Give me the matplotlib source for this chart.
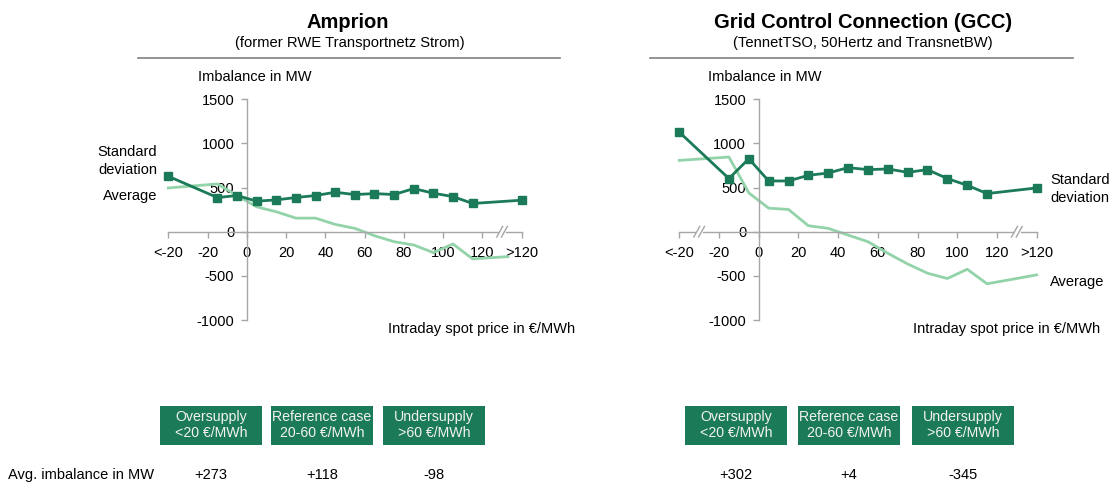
import numpy as np
import matplotlib
matplotlib.use('Agg')
import matplotlib.pyplot as plt
from matplotlib.patches import Rectangle

plt.rcParams['font.family'] = ['Liberation Sans', 'DejaVu Sans']
plt.rcParams['axes.unicode_minus'] = False

# price buckets (numeric positions, "<-20" -> -40, ">120" -> 140)
tick_pos = [-40, -20, 0, 20, 40, 60, 80, 100, 120, 140]
tick_labels = ['<-20', '-20', '0', '20', '40', '60', '80', '100', '120', '>120']
x_pts = [-40, -15, -5, 5, 15, 25, 35, 45, 55, 65, 75, 85, 95, 105, 115, 140]

# Amprion
amp_std = [628, 387, 410, 346, 361, 387, 410, 447, 421, 432, 421, 489, 436, 398, 320, 357]
amp_avg = [496, 541, 410, 282, 226, 154, 154, 83, 38, -45, -113, -150, -237, -139, -308, -282]
amp_avg_x = [-40, -15, -5, 5, 15, 25, 35, 45, 55, 65, 75, 85, 95, 105, 115, 133]
amp_breaks = [130]

# GCC
gcc_std = [1128, 602, 827, 575, 575, 639, 665, 726, 703, 711, 673, 703, 602, 526, 432, 496]
gcc_avg = [808, 846, 440, 267, 252, 68, 38, -38, -113, -244, -365, -470, -530, -425, -590, -489]
gcc_breaks = [-30, 130]

cases = ['Oversupply\n<20 €/MWh', 'Reference case\n20-60 €/MWh', 'Undersupply\n>60 €/MWh']
amp_case_avg = ['+273', '+118', '-98']
gcc_case_avg = ['+302', '+4', '-345']

DARK = '#1b7a57'
LIGHT = '#93d3a9'
GRID = '#a6a6a6'
FS = 10.5

W, H = 1111, 484
fig = plt.figure(figsize=(W / 100, H / 100), dpi=100)


def fx(px):
  return px / W


def fy(py):
  return 1 - py / H


def make_axes(x0, x1):
  ax = fig.add_axes([fx(x0), fy(320), fx(x1 - x0), (320 - 99.3) / H])
  ax.set_xlim(-40, 140)
  ax.set_ylim(-1000, 1500)
  for s in ['top', 'right']:
    ax.spines[s].set_visible(False)
  ax.spines['left'].set_position(('data', 0))
  ax.spines['bottom'].set_position(('data', 0))
  for s in ['left', 'bottom']:
    ax.spines[s].set_color(GRID)
    ax.spines[s].set_linewidth(1.0)
  ax.set_yticks([-1000, -500, 0, 500, 1000, 1500])
  ax.set_xticks(tick_pos)
  ax.set_xticklabels(tick_labels)
  ax.tick_params(axis='both', colors=GRID, labelcolor='black', labelsize=FS,
                 length=4, width=1.0)
  ax.tick_params(axis='x', pad=6)
  ax.tick_params(axis='y', pad=5)
  ax.patch.set_alpha(0)
  return ax


def draw_breaks(ax, breaks):
  for b in breaks:
    for dx in (-1.2, 1.2):
      ax.plot([b + dx - 1.5, b + dx + 1.5], [-60, 60], color=GRID, lw=1.0,
              clip_on=False, zorder=5)
    ax.plot([b - 1.0, b + 1.0], [0, 0], color='white', lw=2.0, clip_on=False, zorder=4)


# ---- Amprion ----
ax1 = make_axes(168.3, 521.7)
ax1.plot(amp_avg_x, amp_avg, color=LIGHT, lw=2, clip_on=False, zorder=2)
ax1.plot(x_pts, amp_std, color=DARK, lw=2, marker='s', ms=6, clip_on=False, zorder=3)
draw_breaks(ax1, amp_breaks)

# ---- GCC ----
ax2 = make_axes(679.3, 1036.7)
ax2.plot(x_pts, gcc_avg, color=LIGHT, lw=2, clip_on=False, zorder=2)
ax2.plot(x_pts, gcc_std, color=DARK, lw=2, marker='s', ms=6, clip_on=False, zorder=3)
draw_breaks(ax2, gcc_breaks)

# ---- headers ----
fig.text(fx(348), fy(22), 'Amprion', ha='center', va='center', fontsize=14.5, weight='bold')
fig.text(fx(350), fy(43), '(former RWE Transportnetz Strom)', ha='center', va='center', fontsize=10.6)
fig.text(fx(863), fy(22), 'Grid Control Connection (GCC)', ha='center', va='center',
         fontsize=14.5, weight='bold')
fig.text(fx(863), fy(43), '(TennetTSO, 50Hertz and TransnetBW)', ha='center', va='center', fontsize=10.6)
for a, b in [(138, 560), (650, 1073)]:
  fig.add_artist(plt.Line2D([fx(a), fx(b)], [fy(58), fy(58)], color='#808080', lw=1.2))

# axis titles
for x0 in (198, 708):
  fig.text(fx(x0), fy(77), 'Imbalance in MW', ha='left', va='center', fontsize=FS)
for x0 in (388, 913):
  fig.text(fx(x0), fy(329), 'Intraday spot price in €/MWh', ha='left', va='center', fontsize=FS)

# series labels
fig.text(fx(157), fy(161), 'Standard\ndeviation', ha='right', va='center', fontsize=FS,
         linespacing=1.3)
fig.text(fx(157), fy(196), 'Average', ha='right', va='center', fontsize=FS)
fig.text(fx(1050), fy(189), 'Standard\ndeviation', ha='left', va='center', fontsize=FS,
         linespacing=1.3)
fig.text(fx(1050), fy(282), 'Average', ha='left', va='center', fontsize=FS)

# case boxes and averages
box_left = [[160, 271, 383], [685, 798, 912]]
box_w = 102
for lefts, vals in zip(box_left, [amp_case_avg, gcc_case_avg]):
  for x0, label, v in zip(lefts, cases, vals):
    fig.add_artist(Rectangle((fx(x0), fy(444.5)), fx(box_w), (444.5 - 405.5) / H,
                             facecolor=DARK, edgecolor='none'))
    fig.text(fx(x0 + box_w / 2), fy(425), label, ha='center', va='center',
             fontsize=10.2, color='#f2f2f2', linespacing=1.2)
    fig.text(fx(x0 + box_w / 2), fy(475), v, ha='center', va='center', fontsize=FS)

fig.text(fx(8), fy(475), 'Avg. imbalance in MW', ha='left', va='center', fontsize=FS)

fig.savefig('out.png', dpi=100)
